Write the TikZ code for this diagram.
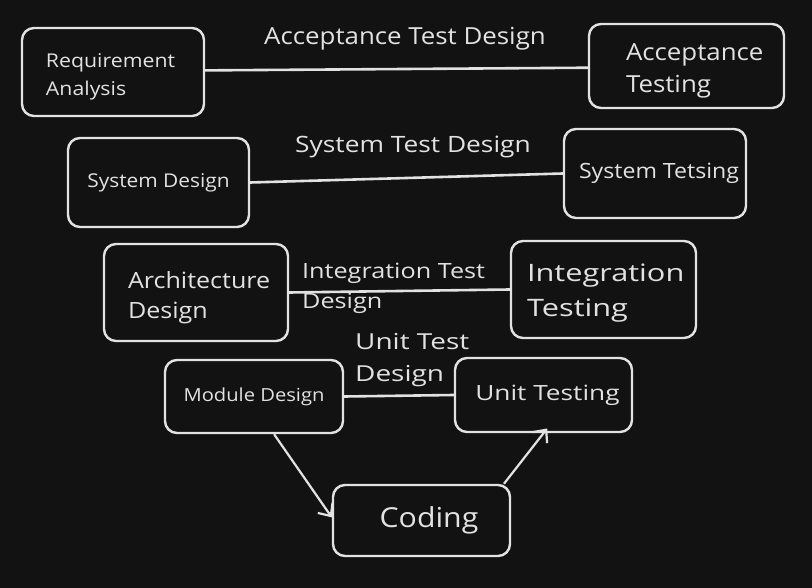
\documentclass[tikz,border=0pt]{standalone}
\usepackage{fontspec}
\setmainfont{Open Sans}
\usetikzlibrary{arrows.meta}
\definecolor{bg}{HTML}{121212}
\definecolor{ink}{HTML}{E2E2E2}
\newcommand{\vf}[3]{\addfontfeature{FakeStretch=#3}\fontsize{#1}{#2}\selectfont}
\newcommand{\dn}[1]{\rule{0pt}{\dimexpr0.72em+#1\relax}}
\begin{document}
\begin{tikzpicture}[x=1pt,y=-1pt,
  box/.style={draw=ink,line width=2.4pt,rounded corners=12pt,text=ink,inner sep=0pt},
  lbl/.style={text=ink,inner sep=0pt,align=left},
  link/.style={draw=ink,line width=2.6pt},
  arr/.style={draw=ink,line width=2.2pt,-{Straight Barb[length=10pt,width=18pt,line width=2.2pt]}}]
\useasboundingbox[fill=bg] (0,0) rectangle (812,588);
% boxes
\node[box,minimum width=182pt,minimum height=88pt,text width=166pt,inner xsep=8pt,align=left,font=\vf{19}{28}{1.12}] (RA) at (113,72) {\dn{10pt}\hspace*{16pt}Requirement\\\hspace*{16pt}Analysis};
\node[box,minimum width=195pt,minimum height=84pt,text width=179pt,inner xsep=8pt,align=left,font=\vf{23.5}{32}{1.1}] (AT) at (686.5,66) {\dn{10pt}\hspace*{29pt}Acceptance\\\hspace*{29pt}Testing};
\node[box,minimum width=181pt,minimum height=89pt,font=\vf{19}{24}{1.1}] (SD) at (158.5,182.5) {System Design};
\node[box,minimum width=182pt,minimum height=89pt,font=\vf{21}{24}{1.1}] (ST) at (655,173.5) {\hspace*{8pt}System Tetsing};
\node[box,minimum width=184pt,minimum height=97pt,text width=168pt,inner xsep=8pt,align=left,font=\vf{22.4}{30}{1.12}] (AD) at (196,292.5) {\dn{12pt}\hspace*{16pt}Architecture\\\hspace*{16pt}Design};
\node[box,minimum width=185pt,minimum height=97pt,text width=169pt,inner xsep=8pt,align=left,font=\vf{24}{35}{1.28}] (IT) at (603.5,289.5) {\dn{8pt}\hspace*{8pt}Integration\\\hspace*{8pt}Testing};
\node[box,minimum width=178pt,minimum height=73pt,font=\vf{18}{22}{1.12}] (MD) at (254,396.5) {Module Design};
\node[box,minimum width=177pt,minimum height=74pt,font=\vf{21}{24}{1.25}] (UT) at (543.5,395) {\hspace*{8pt}Unit Testing};
\node[box,minimum width=177pt,minimum height=71pt,font=\vf{27.5}{30}{1.1}] (CO) at (421.5,520.5) {\hspace*{15pt}Coding};
% labels
\node[lbl,font=\vf{23.5}{30}{1.1},anchor=base] (L1) at (405,45) {Acceptance Test Design};
\node[lbl,font=\vf{22.5}{30}{1.17},anchor=base] (L2) at (413,153) {System Test Design};
\node[lbl,font=\vf{21}{30}{1.2},anchor=north west] (L3) at (302,263) {Integration Test\\Design};
\node[lbl,font=\vf{22}{32}{1.27},anchor=north west] (L4) at (355,333) {Unit Test\\Design};
% links
\draw[link] (RA.1) -- (AT.181);
\draw[link] (SD.east) -- (ST.west);
\draw[link] (AD.east) -- (IT.west);
\draw[link] (MD.east) -- (UT.west);
\draw[arr] (MD.-62) -- (CO.178);
\draw[arr,shorten >=-6pt] (CO.24) -- (UT.south);
\end{tikzpicture}
\end{document}
